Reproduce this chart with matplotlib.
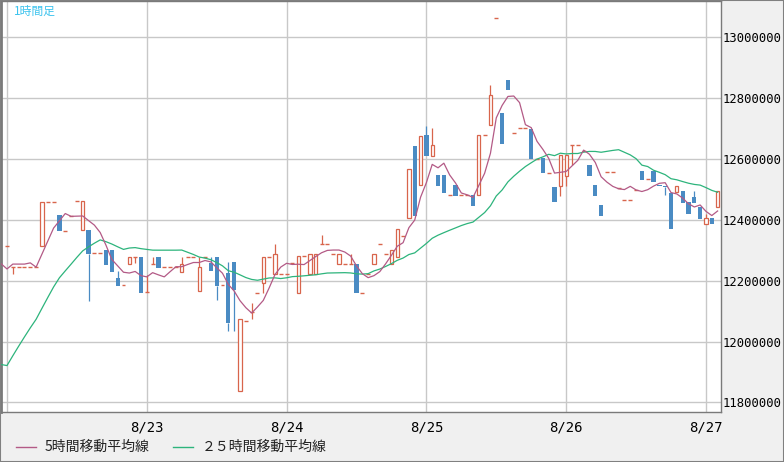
import numpy as np
import pandas as pd
import matplotlib
matplotlib.use("Agg")
import matplotlib.pyplot as plt
from matplotlib.lines import Line2D
from matplotlib.patches import Rectangle

# 1時間足 8/22 0:00 から (単位: 千円)
opens = [12315, 12245, 12245, 12245, 12245, 12245, 12315, 12459, 12459, 12416,
         12365, 12413, 12462, 12367, 12367, 12291, 12291, 12301, 12301, 12209,
         12186, 12255, 12278, 12278, 12163, 12255, 12278, 12245, 12245, 12245,
         12229, 12278, 12278, 12167, 12278, 12259, 12278, 12186, 12226, 12262,
         11838, 12068, 12098, 12160, 12193, 12278, 12222, 12222, 12222, 12259,
         12160, 12282, 12222, 12222, 12321, 12321, 12288, 12255, 12255, 12255,
         12255, 12160, 12222, 12255, 12321, 12288, 12255, 12278, 12347, 12407,
         12643, 12515, 12679, 12610, 12548, 12548, 12482, 12515, 12482, 12482,
         12482, 12482, 12679, 12712, 13064, 12752, 12860, 12686, 12702, 12702,
         12699, 12601, 12604, 12555, 12509, 12512, 12545, 12647, 12647, 12627,
         12581, 12515, 12449, 12558, 12558, 12505, 12466, 12466, 12499, 12561,
         12535, 12561, 12515, 12512, 12489, 12492, 12495, 12459, 12476, 12443,
         12387, 12407, 12443]
highs = [12315, 12245, 12245, 12245, 12245, 12245, 12459, 12459, 12459, 12416,
         12365, 12413, 12462, 12462, 12367, 12291, 12291, 12301, 12301, 12232,
         12186, 12278, 12278, 12278, 12219, 12278, 12278, 12245, 12245, 12245,
         12278, 12278, 12278, 12278, 12278, 12278, 12278, 12186, 12262, 12262,
         12074, 12068, 12127, 12160, 12278, 12278, 12321, 12222, 12222, 12259,
         12282, 12282, 12288, 12288, 12351, 12321, 12288, 12288, 12255, 12288,
         12255, 12160, 12222, 12288, 12321, 12288, 12301, 12370, 12347, 12568,
         12643, 12676, 12709, 12702, 12548, 12548, 12482, 12515, 12482, 12482,
         12482, 12679, 12679, 12844, 13064, 12752, 12860, 12686, 12702, 12702,
         12699, 12601, 12604, 12555, 12509, 12614, 12614, 12647, 12647, 12627,
         12581, 12515, 12449, 12558, 12558, 12505, 12466, 12466, 12499, 12561,
         12535, 12561, 12515, 12512, 12489, 12512, 12495, 12459, 12495, 12443,
         12420, 12407, 12495]
lows = [12315, 12222, 12245, 12245, 12245, 12245, 12315, 12459, 12459, 12364,
        12365, 12413, 12462, 12367, 12134, 12291, 12291, 12252, 12229, 12183,
        12186, 12255, 12259, 12160, 12163, 12255, 12242, 12245, 12245, 12245,
        12229, 12278, 12278, 12167, 12278, 12232, 12137, 12186, 12035, 12035,
        11838, 12068, 12074, 12160, 12160, 12278, 12222, 12222, 12222, 12259,
        12160, 12282, 12222, 12222, 12321, 12321, 12288, 12255, 12255, 12255,
        12160, 12160, 12222, 12255, 12321, 12288, 12255, 12278, 12347, 12407,
        12413, 12515, 12610, 12610, 12512, 12489, 12482, 12479, 12482, 12482,
        12446, 12482, 12679, 12712, 13064, 12650, 12827, 12686, 12702, 12702,
        12601, 12601, 12555, 12555, 12459, 12479, 12512, 12581, 12647, 12627,
        12545, 12479, 12413, 12558, 12558, 12505, 12466, 12466, 12499, 12532,
        12535, 12525, 12512, 12482, 12370, 12492, 12456, 12420, 12456, 12403,
        12387, 12387, 12443]
closes = [12315, 12245, 12245, 12245, 12245, 12245, 12459, 12459, 12459, 12364,
          12365, 12413, 12462, 12462, 12288, 12291, 12291, 12252, 12229, 12183,
          12186, 12278, 12278, 12160, 12163, 12255, 12242, 12245, 12245, 12245,
          12255, 12278, 12278, 12245, 12278, 12232, 12183, 12186, 12061, 12170,
          12074, 12068, 12098, 12160, 12278, 12278, 12288, 12222, 12222, 12259,
          12282, 12282, 12288, 12288, 12321, 12321, 12288, 12288, 12255, 12255,
          12160, 12160, 12222, 12288, 12321, 12288, 12301, 12370, 12347, 12568,
          12413, 12676, 12610, 12647, 12512, 12489, 12482, 12479, 12482, 12482,
          12446, 12679, 12679, 12811, 13064, 12650, 12827, 12686, 12702, 12702,
          12601, 12601, 12555, 12555, 12459, 12614, 12614, 12647, 12647, 12627,
          12545, 12479, 12413, 12558, 12558, 12505, 12466, 12466, 12499, 12532,
          12535, 12525, 12512, 12509, 12370, 12512, 12456, 12420, 12456, 12403,
          12407, 12387, 12495]

# 表示範囲より前の終値 (移動平均の計算用)
prev_closes = [12400, 11440, 11460, 11480, 11500, 11540, 11560, 11570, 11590,
               11610, 11800, 11860, 11900, 11930, 11960, 11990, 12020, 12400,
               12420, 12410, 12400, 12165, 12245, 12245, 12225]

day_labels = ["", "8/23", "8/24", "8/25", "8/26", "8/27"]
price_ticks = [11800000, 12000000, 12200000, 12400000, 12600000, 12800000, 13000000]

UP = "#d8654c"
DOWN = "#4a8bc3"
MA5_C = "#b35a86"
MA25_C = "#2db47c"
JP = ["Noto Sans CJK JP", "DejaVu Sans"]
MONO = "DejaVu Sans Mono"

df = pd.DataFrame({"open": opens, "high": highs, "low": lows, "close": closes}) * 1000
df["x"] = np.arange(len(df))

allc = pd.Series(np.array(prev_closes + closes) * 1000.0)
ma_x = np.arange(len(allc)) - len(prev_closes)
ma5 = allc.rolling(5).mean()
ma25 = allc.rolling(25).mean()
vis = ma_x >= -1

fig = plt.figure(figsize=(7.84, 4.62), dpi=100, facecolor="#f0f0f0")
fig.patches.append(Rectangle((0, 0), 1, 1, transform=fig.transFigure, fill=False,
                             edgecolor="#808080", linewidth=1.5))
ax = fig.add_axes([1 / 784, 50 / 462, 720 / 784, 411 / 462])
ax.set_facecolor("white")

up = df[df.close > df.open]
down = df[df.close < df.open]
flat = df[df.close == df.open]

# ヒゲ
body_top = df[["open", "close"]].max(axis=1)
body_bot = df[["open", "close"]].min(axis=1)
wick_col = np.where(df.close < df.open, DOWN, UP)
ax.vlines(df.x, body_top, df.high, colors=wick_col, linewidth=0.9, zorder=2)
ax.vlines(df.x, df.low, body_bot, colors=wick_col, linewidth=0.9, zorder=2)

# 実体
ax.bar(up.x, up.close - up.open, bottom=up.open, width=0.56, facecolor="white",
       edgecolor=UP, linewidth=0.9, zorder=3)
ax.bar(down.x, down.open - down.close, bottom=down.close, width=0.74,
       color=DOWN, linewidth=0, zorder=3)
ax.hlines(flat.open, flat.x - 0.34, flat.x + 0.34, colors=UP, linewidth=1.0, zorder=3)

ax.plot(ma_x[vis], ma25[vis], color=MA25_C, linewidth=0.9, zorder=4)
ax.plot(ma_x[vis], ma5[vis], color=MA5_C, linewidth=0.9, zorder=5)

ax.set_xlim(-1.03, 122.58)
ax.set_ylim(11768700, 13120000)
ax.set_xticks(np.arange(0, 121, 24))
ax.set_xticklabels(day_labels, fontfamily=MONO, fontsize=10)
ax.set_yticks(price_ticks)
ax.set_yticklabels([str(v) for v in price_ticks], fontfamily=MONO, fontsize=8.8)
ax.yaxis.tick_right()
ax.tick_params(axis="both", length=0, colors="black")
ax.tick_params(axis="x", pad=6)
ax.tick_params(axis="y", pad=1)
ax.grid(True, color="#c8c8c8", linewidth=1.0, zorder=0)
ax.set_axisbelow(True)
for side in ["left", "top", "right", "bottom"]:
    ax.spines[side].set_color("#7a7a7a")
    ax.spines[side].set_linewidth(1.0)
ax.spines["left"].set_linewidth(2.0)

fig.text(14 / 784, 1 - 11 / 462, "1時間足", color="#3cc3ee", fontsize=8.5,
         family=JP, va="center", ha="left")

# 凡例
ly = (462 - 447) / 462
fig.add_artist(Line2D([16 / 784, 36 / 784], [ly, ly], color=MA5_C, linewidth=1.0))
fig.text(45 / 784, ly, "5時間移動平均線", fontsize=10, family=JP, color="#222222",
         va="center", ha="left")
fig.add_artist(Line2D([173 / 784, 193 / 784], [ly, ly], color=MA25_C, linewidth=1.0))
fig.text(202 / 784, ly, "２５時間移動平均線", fontsize=10, family=JP, color="#222222",
         va="center", ha="left")

fig.savefig("out.png", dpi=100, facecolor=fig.get_facecolor())
